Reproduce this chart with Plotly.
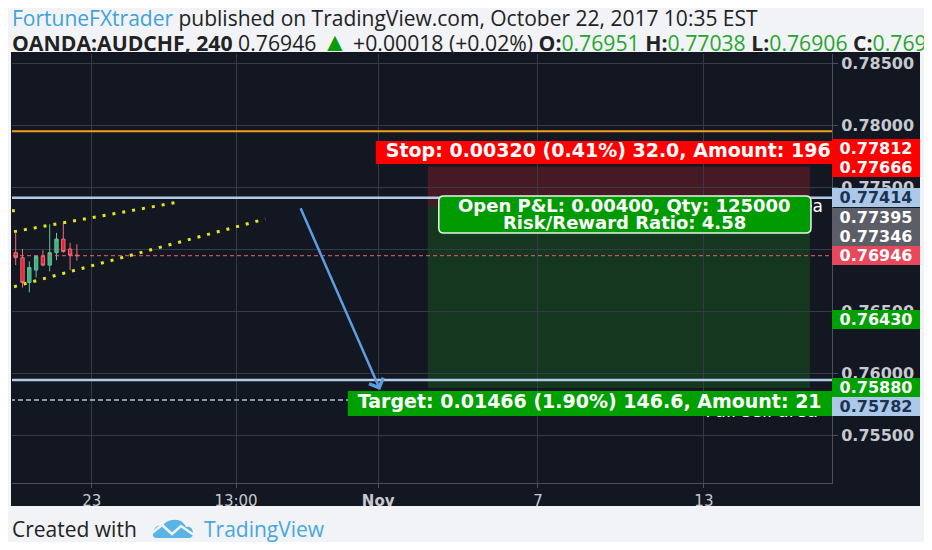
import plotly.graph_objects as go

# OANDA:AUDCHF 4h candles, x = bar index from the first visible bar
bar_idx = list(range(10))
opens = [0.7697, 0.7693, 0.7673, 0.7683, 0.7694, 0.7687, 0.7697, 0.7708, 0.7700, 0.76951]
highs = [0.7713, 0.7700, 0.7690, 0.7695, 0.7699, 0.7720, 0.7713, 0.7721, 0.7705, 0.77038]
lows = [0.7687, 0.7669, 0.7665, 0.7677, 0.7686, 0.7682, 0.7691, 0.7697, 0.7683, 0.76906]
closes = [0.7693, 0.7673, 0.7685, 0.7694, 0.7687, 0.7697, 0.7708, 0.7698, 0.7695, 0.76946]

# time axis labels (bar offsets of the dates)
tick_pos = [11.2, 32.4, 53.3, 76.8, 101.2]
tick_text = ["23", "13:00", "<b>Nov</b>", "7", "13"]

# drawn levels
orange_level = 0.7795
resist_level = 0.77414
support_level = 0.75944
dashed_level = 0.75782
last_price = 0.76946

# short position tool
entry = 0.77346
stop = 0.77666
target = 0.75880
pos_bars = [60.6, 116.8]

# channel (trend lines): [bar, price] ends
upper_x = [-0.25, 23.4]
upper_y = [0.77140, 0.77373]
lower_x = [-0.25, 36.7]
lower_y = [0.76696, 0.77242]
stray_dot = [-0.35, 0.77309]

# arrow tail -> head
arrow_x = [41.8, 53.6]
arrow_y = [0.77341, 0.75863]

# price scale labels
scale_text = ["0.77812", "0.77666", "0.77414", "0.77395", "0.77346",
              "0.76946", "0.76430", "0.75880", "0.75782"]
scale_price = [0.77812, 0.77666, 0.77414, 0.77395, 0.77346,
               0.76946, 0.76430, 0.75880, 0.75782]

# the page puts the figure 8px in from the corner, so the figure is 16px smaller
OFF = 8
W, H = 916, 534
ML, MR, MT, MB = 4, 92, 46, 59
X_RANGE = [-0.544, 120.04]
Y_RANGE = [0.751129, 0.785726]
BG = "#131722"
FONT = "DejaVu Sans"
HEAD = "Open Sans"


# screen pixel -> paper
def ppx(x):
    return (x - OFF - ML) / (W - ML - MR)


def ppy(y):
    return 1 - (y - OFF - MT) / (H - MT - MB)


def bar_w(px):
    return px * (X_RANGE[1] - X_RANGE[0]) / (W - ML - MR)


def price_h(px):
    return px * (Y_RANGE[1] - Y_RANGE[0]) / (H - MT - MB)


fig = go.Figure()

fig.add_trace(go.Candlestick(
    x=bar_idx, open=opens, high=highs, low=lows, close=closes,
    increasing=dict(line=dict(color="#62c39c", width=1), fillcolor="#3fb07f"),
    decreasing=dict(line=dict(color="#e8707a", width=1), fillcolor="#f01e2c"),
    whiskerwidth=0, hoverinfo="skip"))

far_x = [X_RANGE[0] - 5, X_RANGE[1] + 5]


def hline(level, color, width, dash="solid"):
    fig.add_trace(go.Scatter(x=far_x, y=[level, level], mode="lines",
                             line=dict(color=color, width=width, dash=dash),
                             hoverinfo="skip"))


hline(orange_level, "#f39c1e", 2)
hline(resist_level, "#b4cbe6", 2.5)
hline(support_level, "#b4cbe6", 2.5)
hline(dashed_level, "#a9c6e8", 1.5, "5px,3px")
hline(last_price, "#e8606e", 1, "4px,3px")

for xs, ys in [(upper_x, upper_y), (lower_x, lower_y)]:
    fig.add_trace(go.Scatter(x=xs, y=ys, mode="lines",
                             line=dict(color="#e6e61a", width=3, dash="3px,7px"),
                             hoverinfo="skip"))
fig.add_trace(go.Scatter(x=[stray_dot[0]], y=[stray_dot[1]], mode="markers",
                         marker=dict(symbol="square", size=3, color="#e6e61a"),
                         hoverinfo="skip"))

# text that sits behind the position labels
fig.add_trace(go.Scatter(x=[pos_bars[1] + bar_w(13)], y=[entry + price_h(-2)], mode="text",
                         text=["Sell area"], textposition="middle left",
                         textfont=dict(family=FONT, size=17, color="#ffffff"),
                         hoverinfo="skip"))
fig.add_trace(go.Scatter(x=[pos_bars[1] + bar_w(8)], y=[target - price_h(25)], mode="text",
                         text=["Full sell area"], textposition="middle left",
                         textfont=dict(family=FONT, size=18, color="#ffffff"),
                         hoverinfo="skip"))


def tag(x0, y0, y1, text, color):
    fig.add_trace(go.Scatter(x=[x0, x0, X_RANGE[1] + 5, X_RANGE[1] + 5, x0],
                             y=[y0, y1, y1, y0, y0], mode="lines", fill="toself",
                             fillcolor=color, line=dict(width=0), hoverinfo="skip"))
    fig.add_trace(go.Scatter(x=[x0 + bar_w(10)], y=[(y0 + y1) / 2], mode="text",
                             text=[text], textposition="middle right",
                             textfont=dict(family=FONT, size=19, color="#ffffff",
                                           weight="bold"),
                             hoverinfo="skip"))


risk = stop - entry
reward = entry - target
tag(pos_bars[0] - bar_w(52), stop + price_h(2.5), stop + price_h(25.5),
    "Stop: %.5f (%.2f%%) %.1f, Amount: 196" % (risk, risk / entry * 100, risk * 1e4),
    "#ff0000")
tag(pos_bars[0] - bar_w(80), target - price_h(28), target - price_h(3),
    "Target: %.5f (%.2f%%) %.1f, Amount: 21" % (reward, reward / entry * 100, reward * 1e4),
    "#00a000")

# position zones
fig.add_shape(type="rect", xref="x", yref="y", x0=pos_bars[0], x1=pos_bars[1],
              y0=entry, y1=stop, fillcolor="#451a24", line_width=0, layer="below")
fig.add_shape(type="rect", xref="x", yref="y", x0=pos_bars[0], x1=pos_bars[1],
              y0=target, y1=entry, fillcolor="#15361f", line_width=0, layer="below")

# open P&L box (rounded)
bx0, bx1 = pos_bars[0] + bar_w(11), pos_bars[1] + bar_w(1)
by1 = resist_level + price_h(1.7)
by0 = by1 - price_h(37)
rx, ry = bar_w(5), price_h(5)
path = ("M %f,%f L %f,%f Q %f,%f %f,%f L %f,%f Q %f,%f %f,%f L %f,%f Q %f,%f %f,%f "
        "L %f,%f Q %f,%f %f,%f Z") % (
    bx0 + rx, by1, bx1 - rx, by1, bx1, by1, bx1, by1 - ry, bx1, by0 + ry, bx1, by0,
    bx1 - rx, by0, bx0 + rx, by0, bx0, by0, bx0, by0 + ry, bx0, by1 - ry, bx0, by1,
    bx0 + rx, by1)
fig.add_shape(type="path", xref="x", yref="y", path=path, fillcolor="#009b00",
              line=dict(color="#e8f5e8", width=1.5), layer="above")
pnl_lines = ["Open P&L: %.5f, Qty: 125000" % (entry - last_price),
             "Risk/Reward Ratio: %.2f" % (reward / risk)]
for line_txt, dy in zip(pnl_lines, [10, 27]):
    fig.add_annotation(x=(bx0 + bx1) / 2, y=by1 - price_h(dy), xref="x", yref="y",
                       text=line_txt, showarrow=False,
                       font=dict(family=FONT, size=18, color="#ffffff", weight="bold"))

# arrow
fig.add_annotation(x=arrow_x[1], y=arrow_y[1], ax=arrow_x[0], ay=arrow_y[0],
                   xref="x", yref="y", axref="x", ayref="y", text="",
                   showarrow=True, arrowhead=4, arrowsize=1.2, arrowwidth=2.5,
                   arrowcolor="#5d9ee0", standoff=0)

# dark chart frame
fig.add_shape(type="rect", xref="paper", yref="paper", x0=ppx(11), x1=ppx(920),
              y0=ppy(506), y1=ppy(52), fillcolor=BG, line_width=0, layer="below")

# price scale tags
tag_bg = ["#ff0000", "#ff0000", "#abc8e8", "#5b5e66", "#5b5e66",
          "#e9475b", "#00a000", "#00a000", "#abc8e8"]
tag_fg = ["#ffffff", "#ffffff", "#1b3350", "#ffffff", "#ffffff",
          "#ffffff", "#ffffff", "#ffffff", "#1b3350"]
tag_shift = [0, -1.5, 0, -17.5, -30.3, 0, 0, 0, -6.7]
for t, p, bg, fg, sh in zip(scale_text, scale_price, tag_bg, tag_fg, tag_shift):
    fig.add_annotation(x=1, y=p, xref="paper", yref="y", xanchor="left", yanchor="middle",
                       yshift=sh, text=t, showarrow=False, width=88, height=19,
                       bgcolor=bg, borderpad=0, borderwidth=0, align="center",
                       font=dict(family=FONT, size=16, color=fg, weight="bold"))

# header
fig.add_annotation(x=ppx(10), y=ppy(18), xref="paper", yref="paper", xanchor="left",
                   yanchor="middle", showarrow=False,
                   text="<span style='color:#3fa3d8'>FortuneFXtrader</span> published on "
                        "TradingView.com, October 22, 2017 10:35 EST",
                   font=dict(family=HEAD, size=21, color="#222222"))
g = "<span style='color:#27a52f'>%s</span>"
fig.add_annotation(x=ppx(10), y=ppy(41), xref="paper", yref="paper", xanchor="left",
                   yanchor="middle", showarrow=False,
                   text="<b>OANDA:AUDCHF, 240</b> 0.76946 "
                        "<span style='color:#0a9b0a;font-size:26px'>▲</span>"
                        " +0.00018 (+0.02%) <b>O:</b>" + (g % "0.76951") +
                        " <b>H:</b>" + (g % "0.77038") + " <b>L:</b>" + (g % "0.76906") +
                        " <b>C:</b>" + (g % "0.76946"),
                   font=dict(family=HEAD, size=21.2, color="#222222"))

# footer
fig.add_annotation(x=ppx(10), y=ppy(529), xref="paper", yref="paper", xanchor="left",
                   yanchor="middle", showarrow=False, text="Created with",
                   font=dict(family=HEAD, size=21, color="#222222"))
fig.add_annotation(x=ppx(202), y=ppy(529), xref="paper", yref="paper", xanchor="left",
                   yanchor="middle", showarrow=False, text="TradingView",
                   font=dict(family=HEAD, size=21, color="#46a8dc"))
cloud = [(156, 538), (188, 538), (194, 538), (193, 532), (192, 526), (186, 527),
         (182, 518), (172, 520), (165, 521), (163, 526), (156, 524), (154, 530),
         (151, 537), (156, 538)]
cp = "M %f,%f L %f,%f" % (ppx(cloud[0][0]), ppy(cloud[0][1]), ppx(cloud[1][0]), ppy(cloud[1][1]))
for i in range(2, len(cloud) - 1, 2):
    cp += " Q %f,%f %f,%f" % (ppx(cloud[i][0]), ppy(cloud[i][1]),
                              ppx(cloud[i + 1][0]), ppy(cloud[i + 1][1]))
cp += " Z"
fig.add_shape(type="path", xref="paper", yref="paper", path=cp, fillcolor="#5ab4e5",
              line_width=0, layer="above")
zig = [(152, 533), (162, 525), (172, 534), (181, 526), (194, 535)]
zp = "M " + " L ".join("%f,%f" % (ppx(a), ppy(b)) for a, b in zig)
fig.add_shape(type="path", xref="paper", yref="paper", path=zp,
              line=dict(color="#f1f3f6", width=2.5), layer="above")

fig.update_layout(
    width=W, height=H, margin=dict(l=ML, r=MR, t=MT, b=MB),
    paper_bgcolor="#f1f3f6", plot_bgcolor=BG, showlegend=False,
    xaxis=dict(range=X_RANGE, tickvals=tick_pos, ticktext=tick_text,
               showgrid=True, gridcolor="#353a46", gridwidth=1, zeroline=False,
               showline=True, linecolor="#4b505c", ticks="outside", ticklen=4,
               tickcolor="#4b505c", rangeslider=dict(visible=False),
               tickfont=dict(family=FONT, size=15, color="#c6c9d0")),
    yaxis=dict(range=Y_RANGE, side="right", tick0=0.755, dtick=0.005, tickformat=".5f",
               showgrid=True, gridcolor="#353a46", gridwidth=1, zeroline=False,
               showline=True, linecolor="#4b505c", ticks="outside", ticklen=5,
               tickcolor="#4b505c",
               tickfont=dict(family=FONT, size=16, color="#c6c9d0", weight="bold")),
)

fig.write_html("out.html")
